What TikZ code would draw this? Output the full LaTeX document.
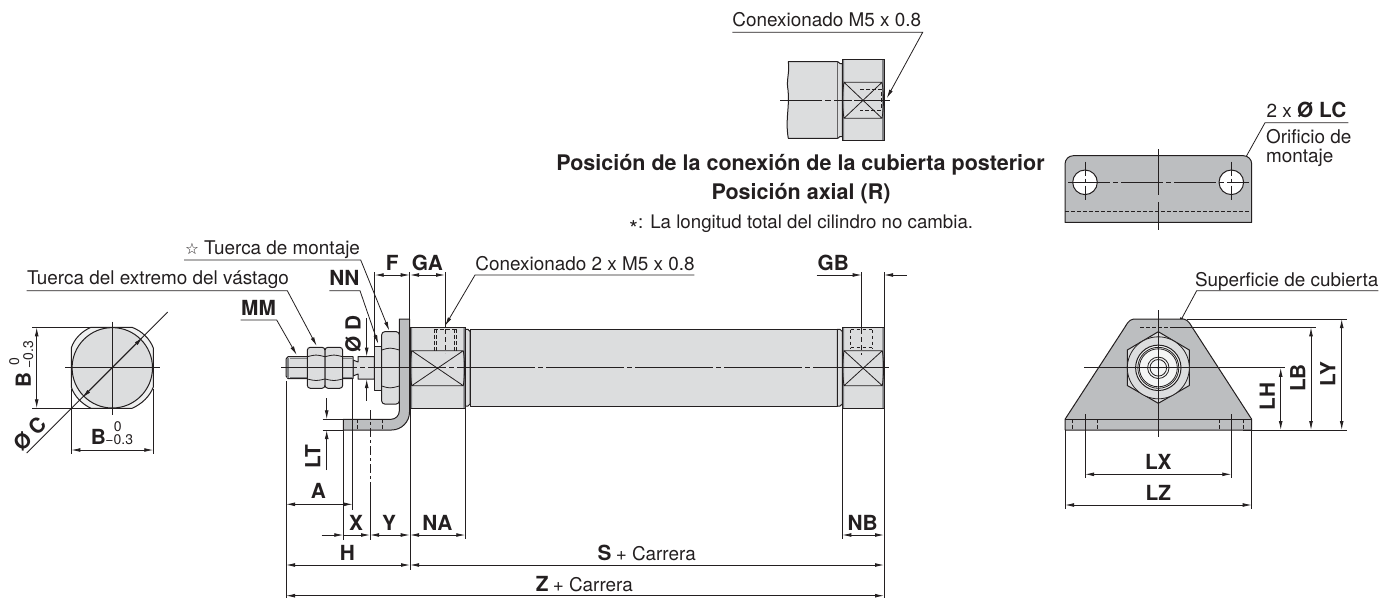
\documentclass[tikz,border=0pt]{standalone}
\usepackage{fontspec}
\usetikzlibrary{arrows.meta}
\setmainfont{TeX Gyre Heros}
\newfontfamily\symfont{DejaVu Sans}
\definecolor{ink}{HTML}{231F20}
\definecolor{bodygray}{HTML}{DCDDDE}
\definecolor{plategray}{HTML}{BCBEC0}
\definecolor{edgegray}{HTML}{808285}
\newcommand{\tx}{\fontsize{18.9}{22}\selectfont}
\newcommand{\bl}{\fontsize{20.8}{24}\selectfont\bfseries}
\newcommand{\sm}{\fontsize{14}{16}\selectfont}
\tikzset{
 thin line/.style={draw=ink,line width=0.8pt},
 shape line/.style={draw=ink,line width=1pt,line join=round},
 part/.style={shape line,fill=bodygray},
 plate/.style={shape line,fill=plategray},
 centre/.style={draw=ink,line width=0.8pt,dash pattern=on 78pt off 3pt on 5pt off 3pt,dash phase=2pt},
 hidden/.style={draw=ink,line width=0.8pt,dash pattern=on 3.5pt off 2.5pt},
 dimline/.style={draw=ink,line width=0.8pt,>={Latex[length=9pt,width=3.8pt]}},
 lab/.style={inner sep=0pt,text=ink},
}
\newcommand{\leader}[6]{%
 \coordinate (#1a) at (#2,#4); \coordinate (#1b) at (#3,#4); \coordinate (#1t) at (#5,#6);
 \draw[dimline,->] (#1a) -- (#1b) -- (#1t);}
\newcommand{\dimH}[4]{% name x1 x2 y
 \coordinate (#1a) at (#2,#4); \coordinate (#1b) at (#3,#4);
 \draw[dimline,<->] (#1a) -- (#1b);}
\newcommand{\dimV}[4]{% name x y1 y2
 \coordinate (#1a) at (#2,#3); \coordinate (#1b) at (#2,#4);
 \draw[dimline,<->] (#1a) -- (#1b);}
\begin{document}
\begin{tikzpicture}[x=1pt,y=-1pt]
\useasboundingbox (0,0) rectangle (1394,598);
%% ---------- rod end view
\draw[part,fill=bodygray!45] (91,327.3) -- (132,327.3) .. controls (142,331) and (150,339) .. (153.3,348) -- (153.3,387) .. controls (150,396) and (142,404) .. (132,408.3) -- (91,408.3) .. controls (82,404) and (74,396) .. (71.3,387) -- (71.3,348) .. controls (74,339) and (82,331) .. cycle;
\draw[part] (112.3,367.8) circle (40.2);
\draw[thin line] (65,367.8) -- (160,367.8) (112.3,321.7) -- (112.3,415);
\draw[dimline] (32,327.3) -- (91,327.3) (32,408.3) -- (91,408.3);
\draw[dimline] (71.3,389) -- (71.3,454) (153.3,389) -- (153.3,454);
\dimV{bl}{36.7}{327.3}{408.3}
\dimH{bb}{71.3}{153.3}{450}
\coordinate (cA) at (167.7,312); \coordinate (cB) at (26.7,453);
\draw[dimline] (cA) -- (cB);
\draw[dimline,<->] (142.7,337.3) -- (82.3,397.7);
\node[lab,rotate=90] (tB1) at (23.3,380) {\bl B};
\node[lab,rotate=90] (tB1a) at (14.2,361.7) {\sm 0};
\node[lab,rotate=90] (tB1b) at (28.3,355) {\sm −0.3};
\node[lab] (tB2) at (98.3,437.3) {\bl B};
\node[lab] (tB2a) at (117.7,426.7) {\sm 0};
\node[lab] (tB2b) at (119.3,440) {\sm −0.3};
\node[lab,rotate=45] (tC) at (30,434) {\bl Ø C};
%% ---------- bracket side
\draw[plate] (399.3,319) -- (409.5,319) -- (409.5,412) arc[start angle=0,end angle=90,radius=18] -- (343.3,430) -- (343.3,419.3) -- (391,419.3) arc[start angle=90,end angle=0,radius=8.3] -- cycle;
\draw[hidden] (357.5,419.3) -- (357.5,430) (382.5,419.3) -- (382.5,430);
%% rod
\draw[part] (353,360) -- (358,362) -- (358,356.7) -- (374.3,356.7) -- (374.3,379) -- (358,379) -- (358,374) -- (353,376) -- cycle;
\draw[part] (288,356.7) -- (353,356.7) -- (353,378.6) -- (288,378.6) -- (286,376) -- (286,359) -- cycle;
\draw[draw=edgegray,line width=1.4pt] (288,358) -- (288,377.5);
\draw[draw=edgegray,line width=.6pt] (290,358.3) -- (353,358.3) (290,377) -- (353,377);
%% nuts
\draw[part,rounded corners=3pt] (307.3,347.3) rectangle (325,388.3);
\draw[part,rounded corners=3pt] (325,347.3) rectangle (342.7,388.3);
\draw[thin line] (307.3,356.7) .. controls (316,354.5) .. (325,356.7) .. controls (334,354.5) .. (342.7,356.7);
\draw[thin line] (307.3,379) .. controls (316,381) .. (325,379) .. controls (334,381) .. (342.7,379);
\draw[part] (374.3,346) -- (381.7,346) -- (381.7,390) -- (374.3,390) -- cycle;
\draw[part,rounded corners=3pt] (381.7,331.7) rectangle (399.3,404);
\draw[thin line] (381.7,350) .. controls (390,347.5) .. (399.3,350);
\draw[thin line] (381.7,386) .. controls (390,388.5) .. (399.3,386);
%% covers
\draw[part] (410,327.3) rectangle (465.3,408.3);
\fill[edgegray] (410,327.8) rectangle (412,407.8) (463.3,327.8) rectangle (465.3,407.8);
\draw[shape line] (410,327.3) rectangle (465.3,408.3);
\draw[part] (465.3,329.3) -- (468,329.3) -- (470,331.5) -- (470,404) -- (468,406) -- (465.3,406) -- cycle;
\draw[part] (470,329.3) rectangle (837.3,406);
\draw[part] (837.3,329.3) -- (840,329.3) -- (842.3,331.5) -- (842.3,404) -- (840,406) -- (837.3,406) -- cycle;
\draw[part] (842.3,327.3) rectangle (884,408.3);
\fill[edgegray] (842.3,327.8) rectangle (844,407.8) (882.3,327.8) rectangle (884,407.8);
\draw[shape line] (842.3,327.3) rectangle (884,408.3);
%% wrench flats
\draw[thin line] (411.7,350.7) -- (463.3,350.7) .. controls (465,362) and (465,374) .. (463.3,385.7) -- (411.7,385.7) .. controls (410,374) and (410,362) .. (411.7,350.7) -- (463.3,385.7) (463.3,350.7) -- (411.7,385.7);
\draw[thin line] (844,350.7) -- (882.3,350.7) .. controls (884,362) and (884,374) .. (882.3,385.7) -- (844,385.7) .. controls (842.3,374) and (842.3,362) .. (844,350.7) -- (882.3,385.7) (882.3,350.7) -- (844,385.7);
%% ports
\draw[hidden] (434,329) -- (434,352) (436,329) -- (436,352) (454,329) -- (454,352) (456,329) -- (456,352) (434,329.5) -- (456,329.5);
\draw[hidden] (850.5,329.5) -- (850.5,348) (872.5,329.5) -- (872.5,348) (850.5,329.5) -- (872.5,329.5) (850.5,347.5) -- (872.5,347.5);
%% centre line
\draw[centre] (281,367.8) -- (889,367.8);
%% extension lines
\draw[thin line] (286,381) -- (286,598) (352.7,379) -- (352.7,510) (343.3,420) -- (343.3,540);
\draw[thin line] (410,408) -- (410,570) (465.3,408) -- (465.3,539) (842.3,408) -- (842.3,539) (884,408) -- (884,598);
\draw[thin line] (374.7,272) -- (374.7,346.5) (409.7,272) -- (409.7,319);
\draw[thin line] (445,272) -- (445,327) (861.7,272) -- (861.7,329);
\draw[thin line,dash pattern=on 5pt off 3pt] (445,329) -- (445,353) (861.7,329) -- (861.7,355);
\draw[thin line] (322.7,419.3) -- (343.3,419.3) (322.7,430) -- (343.3,430);
\draw[thin line,dash pattern=on 9pt off 3pt on 3pt off 3pt] (370,410) -- (370,490);
\draw[thin line] (370,490) -- (370,540);
%% dims
\dimH{dA}{286}{352.7}{504.3}
\dimH{dY}{370}{409.7}{535}
\coordinate (dXa) at (321.7,535); \coordinate (dXb) at (343.3,535);
\draw[dimline,->] (dXa) -- (dXb);
\draw[dimline,<-] (370,535) -- (343.3,535);
\dimH{dNA}{410}{465.3}{535}
\dimH{dNB}{842.3}{884}{535}
\dimH{dH}{286}{410}{565}
\dimH{dS}{410}{884}{565}
\dimH{dZ}{286}{884}{595.7}
\dimH{dF}{374.7}{409.7}{275}
\dimH{dGA}{410}{445}{275}
\coordinate (gA) at (816.7,275); \coordinate (gB) at (861.7,275); \coordinate (gC) at (906.7,275); \coordinate (gD) at (884,275);
\draw[dimline,->] (gA) -- (gB);
\draw[dimline,->] (gC) -- (gD);
\draw[thin line] (884,272) -- (884,327);
\coordinate (dDa) at (366.7,318.3); \coordinate (dDb) at (366.7,356.7); \coordinate (dDc) at (366.7,400.7); \coordinate (dDd) at (366.7,379);
\draw[dimline,->] (dDa) -- (dDb);
\draw[dimline,->] (dDc) -- (dDd);
\coordinate (dLa) at (326.7,398.3); \coordinate (dLb) at (326.7,419.3); \coordinate (dLc) at (326.7,470); \coordinate (dLd) at (326.7,430);
\draw[dimline,->] (dLa) -- (dLb);
\draw[dimline,->] (dLc) -- (dLd);
%% leaders
\leader{lMM}{240.7}{276.7}{320}{296.7}{355}
\leader{lTE}{26.7}{287.3}{290.7}{316.7}{346}
\leader{lTM}{184}{360.7}{260}{389.3}{330.7}
\leader{lNN}{329.3}{360}{290.7}{378.3}{344}
\leader{lCo}{694.3}{475}{275}{445}{326}
\leader{lTop}{732.3}{922.7}{32.3}{886.7}{98.3}
\leader{lLC}{1348.3}{1265}{122.7}{1238.3}{170.7}
\leader{lSu}{1378.3}{1196.7}{290.7}{1177.7}{326}
%% labels, cylinder
\node[lab,anchor=base] (tTE) at (158,284.5) {\tx Tuerca del extremo del vástago};
\node[lab,anchor=base] (tTM) at (272.5,254) {\tx {\symfont\fontsize{15.5}{17}\selectfont ☆} Tuerca de montaje};
\node[lab,anchor=base] (tMM) at (258.5,315) {\bl MM};
\node[lab,anchor=base] (tNN) at (344.3,285) {\bl NN};
\node[lab,anchor=base] (tF) at (392.3,270) {\bl F};
\node[lab,anchor=base] (tGA) at (427.3,270) {\bl GA};
\node[lab,anchor=base] (tGB) at (833.3,270) {\bl GB};
\node[lab,anchor=base] (tCo) at (585,270) {\tx Conexionado 2 x M5 x 0.8};
\node[lab,rotate=90] (tD) at (353,333.5) {\bl Ø D};
\node[lab,rotate=90] (tLT) at (312.7,456.7) {\bl LT};
\node[lab,anchor=base] (tA) at (318.3,498.5) {\bl A};
\node[lab,anchor=base] (tX) at (356,530) {\bl X};
\node[lab,anchor=base] (tY) at (389,530) {\bl Y};
\node[lab,anchor=base] (tNA) at (437.3,530) {\bl NA};
\node[lab,anchor=base] (tNB) at (862.7,530) {\bl NB};
\node[lab,anchor=base] (tH) at (347.3,560) {\bl H};
\node[lab,anchor=base] (tS) at (646.7,560) {{\bl S}\hspace{1.5pt} {\tx + Carrera}};
\node[lab,anchor=base] (tZ) at (584.3,591) {{\bl Z}\hspace{1.5pt} {\tx + Carrera}};
%% ---------- rear port detail
\draw[part] (837.7,61.7) -- (788.3,61.7) .. controls (790,72) and (786,80) .. (788,90) .. controls (790,105) and (785,120) .. (788.3,138.3) -- (837.7,138.3) -- cycle;
\draw[part] (837.7,61.7) -- (840,63.5) -- (842.3,63.5) -- (842.3,136.5) -- (840,136.5) -- (837.7,138.3);
\draw[part] (842.3,59.3) rectangle (884,140.7);
\fill[edgegray] (842.3,60) rectangle (844,140) (882,60) rectangle (884,140);
\draw[shape line] (842.3,59.3) rectangle (884,140.7);
\draw[thin line] (844,82.3) -- (882,82.3) .. controls (884,94) and (884,106) .. (882,118.3) -- (844,118.3) .. controls (842,106) and (842,94) .. (844,82.3) -- (882,118.3) (882,82.3) -- (844,118.3);
\draw[hidden] (860,89.3) -- (881,89.3) -- (881,110) -- (860,110);
\draw[thin line,dash pattern=on 42pt off 3pt on 6pt off 3pt on 18pt off 2pt] (780,100) -- (890,100);
\node[lab,anchor=base] (tTop) at (826.7,26) {\tx Conexionado M5 x 0.8};
%% titles
\node[lab,anchor=base] (tT1) at (800.5,170.5) {\fontsize{21.5}{24}\selectfont\bfseries Posición de la conexión de la cubierta posterior};
\node[lab,anchor=base] (tT2) at (801,199.5) {\fontsize{21.5}{24}\selectfont\bfseries Posición axial (R)};
\node[lab,anchor=base] (tNote) at (801,228) {\fontsize{18.7}{20}\selectfont ∗: La longitud total del cilindro no cambia.};
%% ---------- mounting plate top view
\draw[plate] (1065,222.3) -- (1065,164) arc[start angle=180,end angle=270,radius=8.3] -- (1243.4,155.7) arc[start angle=270,end angle=360,radius=8.3] -- (1251.7,222.3) -- cycle;
\draw[shape line,fill=white] (1085,182.3) circle (12.3) (1231.3,182.3) circle (12.3);
\draw[hidden] (1065,211.7) -- (1251.7,211.7);
\draw[thin line,dash pattern=on 42pt off 3pt on 5pt off 3pt] (1068.3,182.3) -- (1249,182.3);
\draw[thin line] (1158.3,149) -- (1158.3,195) (1158.3,202) -- (1158.3,230);
\draw[thin line,dash pattern=on 14pt off 3pt on 4pt off 3pt] (1085,161.7) -- (1085,201.7) (1231.3,161.7) -- (1231.3,201.7);
\node[lab,anchor=base] (tLC) at (1306.5,117) {{\tx 2 x }{\bl Ø LC}};
\node[lab,anchor=base west] (tOr1) at (1266,143) {\tx Orificio de};
\node[lab,anchor=base west] (tOr2) at (1266,162) {\tx montaje};
%% ---------- front view
\draw[plate] (1065,430) -- (1065,419.3) -- (1125,327) .. controls (1129,320) and (1131,319) .. (1136,319) -- (1181,319) .. controls (1186,319) and (1188,320) .. (1192,327) -- (1251.7,419.3) -- (1251.7,430) -- cycle;
\draw[shape line] (1065,419.3) -- (1251.7,419.3);
\draw[hidden] (1072.3,419.3) -- (1072.3,430) (1097.7,419.3) -- (1097.7,430) (1219,419.3) -- (1219,430) (1243.3,419.3) -- (1243.3,430);
\draw[thin line] (1085,414.3) -- (1085,478.3) (1231.3,414.3) -- (1231.3,478.3);
\draw[part] (1158.3,331.7) -- (1189.3,350) -- (1189.3,385.5) -- (1158.3,403.3) -- (1127.3,385.5) -- (1127.3,350) -- cycle;
\draw[thin line,fill=bodygray] (1158.3,367.8) circle (31);
\draw[shape line,fill=white!70!bodygray] (1158.3,367.8) circle (22.7);
\draw[thin line] (1158.3,367.8) circle (20.5);
\draw[thin line] (1158.3,367.8) circle (19);
\draw[thin line] (1158.3,367.8) circle (10.7);
\draw[thin line] (1158.3,367.8) circle (8.3);
\fill[ink] (1158.3,367.8) circle (1.2);
\draw[thin line] (1084,367.8) -- (1285,367.8);
\draw[thin line] (1158.3,310) -- (1158.3,436.7);
\draw[hidden] (1140,327.3) -- (1170,327.3);
\draw[thin line] (1170,327.3) -- (1316,327.3) (1186.7,319) -- (1346.7,319) (1243,430) -- (1346.7,430);
\draw[thin line] (1065,430) -- (1065,509) (1251.7,430) -- (1251.7,509);
\dimV{dLH}{1280.7}{367.8}{430}
\dimV{dLB}{1311}{327.3}{430}
\dimV{dLY}{1341.7}{319}{430}
\dimH{dLX}{1085}{1231.3}{474.3}
\dimH{dLZ}{1065}{1251.7}{505}
\node[lab,anchor=base] (tLX) at (1158.3,469.5) {\bl LX};
\node[lab,anchor=base] (tLZ) at (1158.3,500) {\bl LZ};
\node[lab,rotate=90] (tLH) at (1267.3,396.7) {\bl LH};
\node[lab,rotate=90] (tLB) at (1297.7,378) {\bl LB};
\node[lab,rotate=90] (tLY) at (1327.7,374) {\bl LY};
\node[lab,anchor=base] (tSu) at (1286.7,286) {\tx Superficie de cubierta};
\end{tikzpicture}
\end{document}
